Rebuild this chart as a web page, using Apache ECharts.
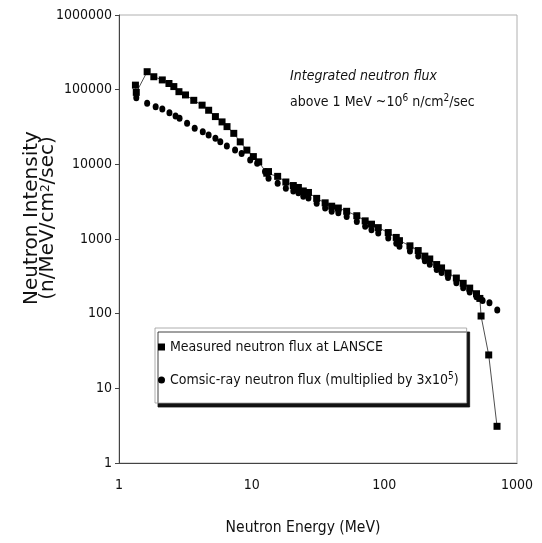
<!DOCTYPE html>
<html>
<head>
<meta charset="utf-8">
<script src="https://cdn.jsdelivr.net/npm/echarts@6/dist/echarts.min.js"></script>
<style>
html,body{margin:0;padding:0;background:#fff;}
#chart{width:542px;height:543px;}
</style>
</head>
<body>
<div id="chart"></div>
<script>
// ---- Data ----
const measuredEnergy = [1.33, 1.35, 1.63, 1.83, 2.12, 2.38, 2.59, 2.83, 3.17, 3.66, 4.23, 4.74, 5.33, 5.98, 6.52, 7.33, 8.2, 9.2, 10.3, 11.3, 13.0,
  13.4, 15.7, 18.1, 20.6, 22.5, 24.5, 26.8, 30.9, 35.8, 40.1, 45, 52, 62, 71.7, 80, 90, 107, 123, 130, 156, 180, 202, 220, 248, 270, 302, 349, 393, 440, 495, 525, 536, 612, 707];
const measuredFlux = [115000, 92000, 174000, 149000, 135000, 121000, 110000, 94000, 85000, 72000, 62000, 53000, 43600, 37000, 32000, 26000, 20000, 15500, 12700, 10800, 7600,
  8000, 6900, 5800, 5200, 4900, 4400, 4200, 3500, 3050, 2750, 2600, 2350, 2050, 1750, 1580, 1420, 1220, 1050, 950, 810, 700, 590, 540, 455, 410, 350, 300, 255, 220, 185, 160, 93, 28, 3.1];

const cosmicEnergy = [1.35, 1.63, 1.89, 2.12, 2.40, 2.67, 2.86, 3.26, 3.72, 4.28, 4.74, 5.33, 5.8, 6.5, 7.5, 8.4, 9.75, 11.0, 12.6,
  13.4, 15.7, 18.1, 20.6, 22.5, 24.5, 26.8, 30.9, 35.8, 40.1, 45, 52, 62, 71.7, 80, 90, 107, 123, 130, 156, 180, 202, 220, 248, 270, 302, 349, 393, 440, 495, 550, 620, 710];
const cosmicFlux = [78000, 66000, 59000, 55000, 49000, 44500, 41400, 35500, 30400, 27400, 24700, 22300, 20000, 17600, 15500, 14000, 11400, 10300, 8000,
  6500, 5600, 4800, 4400, 4150, 3750, 3550, 3000, 2600, 2350, 2250, 2000, 1720, 1480, 1330, 1200, 1030, 880, 800, 690, 590, 510, 460, 390, 355, 305, 260, 222, 195, 168, 150, 140, 112];

const xTickValues = [1, 10, 100, 1000];
const xTickLabels = ['1', '10', '100', '1000'];
const yTickValues = [1, 10, 100, 1000, 10000, 100000, 1000000];
const yTickLabels = ['1', '10', '100', '1000', '10000', '100000', '1000000'];

const measuredName = 'Measured neutron flux at LANSCE';
const cosmicName = 'Comsic-ray neutron flux (multiplied by 3x10^5)';

const NARROW = "'DejaVu Sans Condensed', 'Liberation Sans', sans-serif";
const WIDE = "'DejaVu Sans', sans-serif";

function zip(a, b) { return a.map((v, i) => [v, b[i]]); }
function tickLabel(values, labels) {
  return v => { const i = values.findIndex(t => Math.abs(Math.log10(t) - Math.log10(v)) < 1e-6); return i >= 0 ? labels[i] : ''; };
}

const chart = echarts.init(document.getElementById('chart'), null, { renderer: 'canvas' });
chart.setOption({
  backgroundColor: '#ffffff',
  animation: false,
  grid: { left: 119, right: 25, top: 15, bottom: 80, show: true, borderColor: '#b0b0b0', borderWidth: 1, backgroundColor: 'transparent' },
  xAxis: {
    type: 'log', logBase: 10, min: 1, max: 1000,
    name: 'Neutron Energy (MeV)', nameLocation: 'middle', nameGap: 57, nameMoveOverlap: false,
    nameTextStyle: { fontFamily: NARROW, fontSize: 15.5, color: '#111', padding: [0, 30, 0, 0] },
    axisLine: { show: true, lineStyle: { color: '#444', width: 1 } },
    axisTick: { show: false },
    axisLabel: { fontFamily: NARROW, fontSize: 14, color: '#111', margin: 15, formatter: tickLabel(xTickValues, xTickLabels) },
    splitLine: { show: false }
  },
  yAxis: {
    type: 'log', logBase: 10, min: 1, max: 1000000,
    name: 'Neutron Intensity\n(n/MeV/cm{sup|2}/sec)', nameLocation: 'middle', nameGap: 63, nameRotate: 90, nameMoveOverlap: false,
    nameTextStyle: { fontFamily: WIDE, fontSize: 20, color: '#111', lineHeight: 16, padding: [0, 0, 0, 42],
      rich: { sup: { fontFamily: WIDE, fontSize: 12, verticalAlign: 'top', lineHeight: 16, color: '#111' } } },
    axisLine: { show: true, lineStyle: { color: '#444', width: 1 } },
    axisTick: { show: true, inside: false, length: 4, lineStyle: { color: '#444' } },
    axisLabel: { fontFamily: NARROW, fontSize: 14, color: '#111', margin: 7, formatter: tickLabel(yTickValues, yTickLabels) },
    splitLine: { show: false }
  },
  legend: {
    orient: 'vertical', left: 155, top: 328,
    padding: [12, 8, 16, 3], itemGap: 17, itemWidth: 7, itemHeight: 7,
    backgroundColor: '#ffffff', borderColor: '#999', borderWidth: 0.8,
    shadowColor: '#111', shadowBlur: 0, shadowOffsetX: 3, shadowOffsetY: 4,
    data: [{ name: measuredName, icon: 'rect' }, { name: cosmicName, icon: 'circle' }],
    formatter: name => name === cosmicName ? '{n|Comsic-ray neutron flux (multiplied by 3x10}{sup|5}{n|)}' : '{n|' + name + '}',
    textStyle: { fontFamily: NARROW, fontSize: 14, color: '#111',
      rich: { n: { fontFamily: NARROW, fontSize: 14, color: '#111', lineHeight: 18 },
              sup: { fontFamily: NARROW, fontSize: 10, color: '#111', verticalAlign: 'top', lineHeight: 18 } } }
  },
  graphic: [{
    type: 'text', left: 290, top: 69, silent: true,
    style: {
      text: '{i|Integrated neutron flux}\n{b|above 1 MeV ~10}{s|6}{b| n/cm}{s|2}{b|/sec}',
      fill: '#111',
      rich: {
        i: { fontFamily: NARROW, fontStyle: 'italic', fontSize: 14, lineHeight: 26, fill: '#111' },
        b: { fontFamily: NARROW, fontSize: 14, lineHeight: 26, fill: '#111' },
        s: { fontFamily: NARROW, fontSize: 10, lineHeight: 26, verticalAlign: 'top', padding: [4, 0, 0, 0], fill: '#111' }
      }
    }
  }],
  series: [
    {
      name: measuredName, type: 'line', data: zip(measuredEnergy, measuredFlux),
      symbol: 'rect', symbolSize: [7, 7], showSymbol: true,
      lineStyle: { color: '#222', width: 0.8 }, itemStyle: { color: '#000', opacity: 1 }, z: 3
    },
    {
      name: cosmicName, type: 'scatter', data: zip(cosmicEnergy, cosmicFlux),
      symbol: 'circle', symbolSize: [6, 7], itemStyle: { color: '#000', opacity: 1 }, z: 4
    }
  ]
});
</script>
</body>
</html>
